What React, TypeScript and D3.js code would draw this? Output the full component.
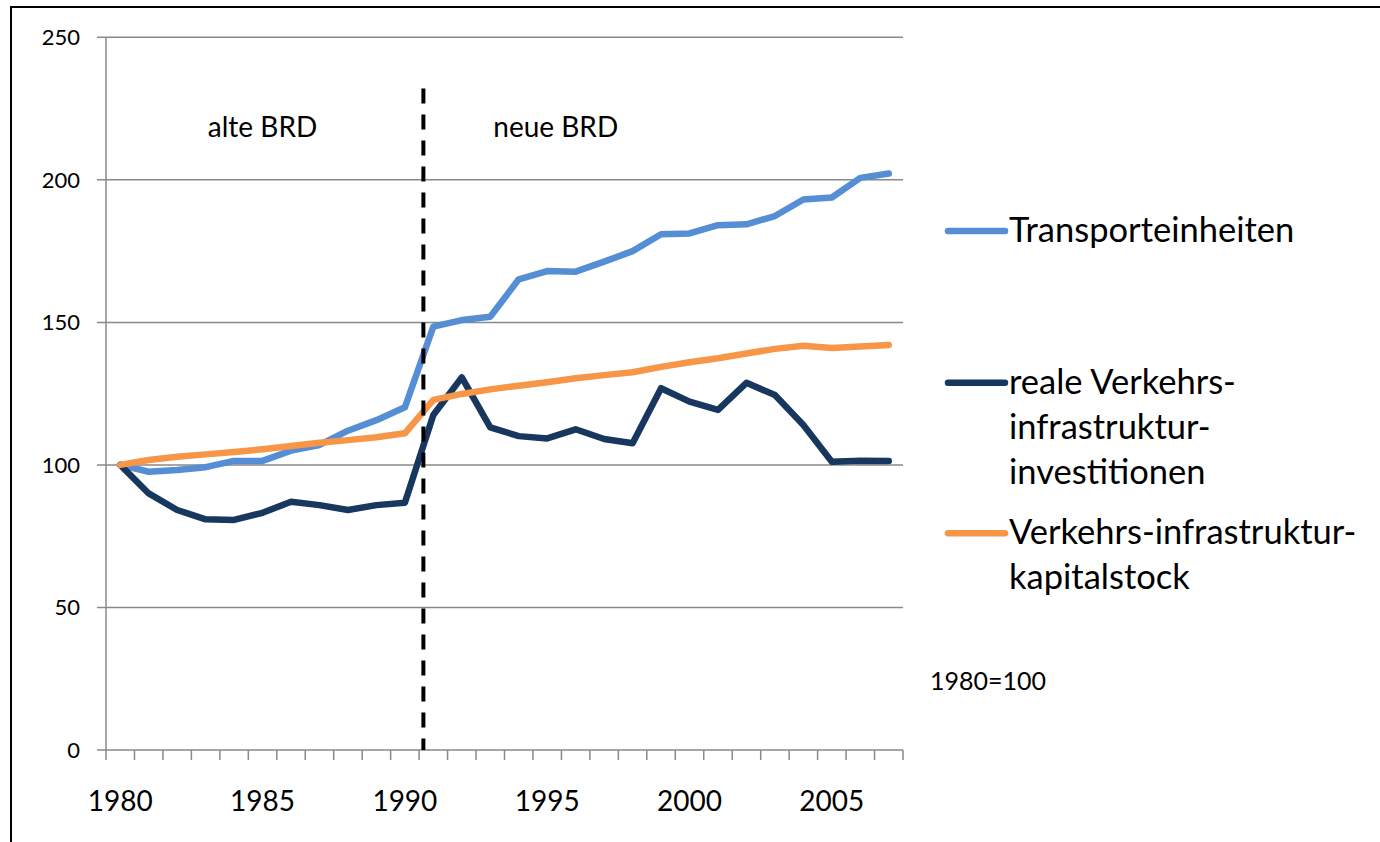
import { useEffect, useRef } from "react";
import * as d3 from "d3";

const years = d3.range(1980, 2008);

const transport = [
  100, 97.6, 98.2, 99.2, 101.4, 101.4, 105, 107, 112, 115.7, 120.2,
  148.5, 150.8, 152, 165.1, 168, 167.8, 171.3, 175, 180.9, 181.2, 184.1,
  184.4, 187.3, 193.1, 193.8, 200.7, 202.2,
];
const investitionen = [
  100, 90, 84.2, 80.9, 80.7, 83.2, 87.1, 85.9, 84.2, 85.9, 86.7, 117.5,
  130.7, 113.2, 110.1, 109.3, 112.5, 109.1, 107.6, 126.9, 122.2, 119.3,
  128.8, 124.5, 114, 101.1, 101.5, 101.4,
];
const kapitalstock = [
  100, 101.7, 102.9, 103.7, 104.5, 105.5, 106.6, 107.8, 108.7, 109.7,
  111.1, 122.8, 124.9, 126.5, 127.8, 129, 130.4, 131.5, 132.5, 134.4, 136,
  137.4, 139.1, 140.7, 141.8, 141, 141.5, 142.1,
];

const yTicks = [0, 50, 100, 150, 200, 250];
const xLabelYears = [1980, 1985, 1990, 1995, 2000, 2005];

// where the reunification divider sits (between 1990 and 1991)
const dividerYear = 1990.65;

const seriesList = [
  { name: ["Transporteinheiten"], values: transport, color: "#558ED5" },
  {
    name: ["reale Verkehrs-", "infrastruktur-", "investitionen"],
    values: investitionen,
    color: "#17375E",
  },
  {
    name: ["Verkehrs-infrastruktur-", "kapitalstock"],
    values: kapitalstock,
    color: "#F79646",
  },
];

const W = 1380;
const H = 842;
const FONT = "Lato, 'Open Sans', sans-serif";

export default function App() {
  const svgRef = useRef<SVGSVGElement>(null);

  useEffect(() => {
    if (!svgRef.current) return;
    const svg = d3.select(svgRef.current);
    svg.selectAll("*").remove();

    const plot = { left: 106, right: 903, top: 37.3, bottom: 750 };

    const band = d3
      .scaleBand<number>()
      .domain(years)
      .range([plot.left, plot.right])
      .paddingInner(0)
      .paddingOuter(0);
    const step = band.step();
    const x = (yr: number) => (band(yr) as number) + step / 2;
    const xCont = d3
      .scaleLinear()
      .domain([years[0], years[years.length - 1]])
      .range([x(years[0]), x(years[years.length - 1])]);

    const y = d3.scaleLinear().domain([0, 250]).range([plot.bottom, plot.top]);

    // outer frame (runs past the right and bottom edge)
    svg
      .append("rect")
      .attr("x", 11)
      .attr("y", 7)
      .attr("width", W + 20)
      .attr("height", H + 20)
      .attr("fill", "white")
      .attr("stroke", "#000")
      .attr("stroke-width", 2);

    // grid lines + left ticks
    svg
      .append("g")
      .selectAll("line")
      .data(yTicks)
      .join("line")
      .attr("x1", plot.left - 9)
      .attr("x2", plot.right)
      .attr("y1", (d) => y(d))
      .attr("y2", (d) => y(d))
      .attr("stroke", "#898989")
      .attr("stroke-width", 1.5);

    // y axis line
    svg
      .append("line")
      .attr("x1", plot.left)
      .attr("x2", plot.left)
      .attr("y1", plot.top)
      .attr("y2", plot.bottom)
      .attr("stroke", "#898989")
      .attr("stroke-width", 1.5);

    // x ticks between categories
    const boundaries = years.map((yr) => band(yr) as number).concat([plot.right]);
    svg
      .append("g")
      .selectAll("line")
      .data(boundaries)
      .join("line")
      .attr("x1", (d) => d)
      .attr("x2", (d) => d)
      .attr("y1", plot.bottom)
      .attr("y2", plot.bottom + 10)
      .attr("stroke", "#898989")
      .attr("stroke-width", 1.5);

    // y tick labels
    svg
      .append("g")
      .selectAll("text")
      .data(yTicks)
      .join("text")
      .attr("x", 80)
      .attr("y", (d) => y(d))
      .attr("dy", "0.35em")
      .attr("text-anchor", "end")
      .attr("font-family", FONT)
      .attr("font-size", 22)
      .attr("fill", "#000")
      .text((d) => d);

    // x tick labels
    svg
      .append("g")
      .selectAll("text")
      .data(xLabelYears)
      .join("text")
      .attr("x", (d) => x(d))
      .attr("y", 811)
      .attr("text-anchor", "middle")
      .attr("font-family", FONT)
      .attr("font-size", 28)
      .attr("fill", "#000")
      .text((d) => d);

    // series lines
    const line = d3
      .line<number>()
      .x((_, i) => x(years[i]))
      .y((d) => y(d));

    seriesList.forEach((s) => {
      svg
        .append("path")
        .datum(s.values)
        .attr("fill", "none")
        .attr("stroke", s.color)
        .attr("stroke-width", 6.5)
        .attr("stroke-linejoin", "round")
        .attr("stroke-linecap", "round")
        .attr("d", line);
    });

    // divider
    svg
      .append("line")
      .attr("x1", xCont(dividerYear))
      .attr("x2", xCont(dividerYear))
      .attr("y1", y(232))
      .attr("y2", plot.bottom)
      .attr("stroke", "#000")
      .attr("stroke-width", 4)
      .attr("stroke-dasharray", "15,11");

    // period labels
    const periods = [
      { label: "alte BRD", yr: 1985 },
      { label: "neue BRD", yr: 1995.3 },
    ];
    svg
      .append("g")
      .selectAll("text")
      .data(periods)
      .join("text")
      .attr("x", (d) => xCont(d.yr))
      .attr("y", y(215))
      .attr("text-anchor", "middle")
      .attr("font-family", FONT)
      .attr("font-size", 28)
      .attr("fill", "#000")
      .text((d) => d.label);

    // legend
    const legendRows = [231, 382.7, 533.3];
    seriesList.forEach((s, i) => {
      const ly = legendRows[i];
      svg
        .append("line")
        .attr("x1", 948)
        .attr("x2", 1005)
        .attr("y1", ly)
        .attr("y2", ly)
        .attr("stroke", s.color)
        .attr("stroke-width", 6.5)
        .attr("stroke-linecap", "round");
      svg
        .append("g")
        .selectAll("text")
        .data(s.name)
        .join("text")
        .attr("x", 1009)
        .attr("y", (_, j) => ly + 11 + j * 45)
        .attr("font-family", FONT)
        .attr("font-size", 34.5)
        .attr("fill", "#000")
        .text((d) => d);
    });

    // base note
    svg
      .append("text")
      .attr("x", 930)
      .attr("y", 690)
      .attr("font-family", FONT)
      .attr("font-size", 25)
      .attr("fill", "#000")
      .text("1980=100");
  }, []);

  return (
    <svg
      ref={svgRef}
      width={W}
      height={H}
      style={{ position: "absolute", left: 0, top: 0, display: "block" }}
    />
  );
}
